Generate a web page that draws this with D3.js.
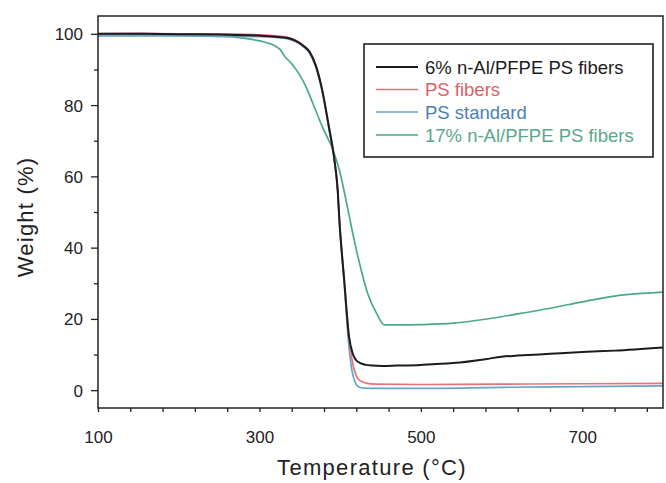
<!DOCTYPE html>
<html>
<head>
<meta charset="utf-8">
<script src="https://cdn.jsdelivr.net/npm/d3@7"></script>
<style>
  html, body { margin: 0; padding: 0; background: #fff; }
  svg { display: block; }
  text { font-family: "Liberation Sans", Arial, sans-serif; }
</style>
</head>
<body>
<svg id="chart" width="666" height="483"></svg>
<script>
// ---- Data ----
const seriesNames = ["6% n-Al/PFPE PS fibers", "PS fibers", "PS standard", "17% n-Al/PFPE PS fibers"];

const blackT = [100,150,200,250,300,320,335,345,355,362,370,378,386,393,397,399,405,411,416,420,425,432,440,452,470,500,540,580,600,620,660,700,740,800];
const blackW = [100,100,99.9,99.8,99.5,99.2,98.8,98,96.5,95,91,84,74,64.5,56,48,31,15,10,8.4,7.6,7.1,6.9,6.8,6.9,7.1,7.6,8.7,9.4,9.7,10.2,10.7,11.1,12];

const redT = [100,150,200,250,300,320,335,345,355,362,370,378,386,393,397,399,405,411,416,420,425,432,445,500,600,700,800];
const redW = [100,100.1,100,100,99.7,99.4,99,98.2,96.7,95,91,84,74,64.5,56,48,31,15,7,4,2.6,2.0,1.7,1.6,1.7,1.8,1.9];

const blueT = [100,150,200,250,300,320,335,345,355,362,370,378,386,393,397,399,405,411,415,419,423,430,450,500,600,700,800];
const blueW = [99.4,99.4,99.4,99.3,99.2,99,98.6,97.8,96.3,94.6,90.5,83.5,73.5,64,55.5,47.5,30,12,5,2,0.9,0.6,0.5,0.5,0.8,1.0,1.2];

const greenT = [100,150,200,250,280,300,320,326,331,340,350,358,366,378,391,399,409,414,424,434,445,455,470,500,540,580,620,660,700,740,800];
const greenW = [99.7,99.7,99.6,99.3,98.8,98,96.5,95.5,93.8,91.6,88.4,85,80.6,73.9,67.4,61.8,51.4,45.8,35.6,27.2,21.6,18.3,18.3,18.4,18.8,19.9,21.4,23,24.8,26.4,27.5];

const xTickLabels = [100, 300, 500, 700];
const yTickLabels = [0, 20, 40, 60, 80, 100];

// ---- Layout ----
const svg = d3.select("#chart");
const pLeft = 98, pRight = 663, pTop = 16, pBottom = 408;
const x = d3.scaleLinear().domain([100, 800]).range([pLeft, pRight]);
const y = d3.scaleLinear().domain([-5, 105]).range([pBottom, pTop]);

const colors = ["#1c1c1c", "#e5727e", "#6aa3c9", "#4aaa86"];
const textColors = ["#1c1c1c", "#dc5f6d", "#4c7fb4", "#5aa88a"];

const series = [
  blackT.map((t, i) => ({t, w: blackW[i]})),
  redT.map((t, i) => ({t, w: redW[i]})),
  blueT.map((t, i) => ({t, w: blueW[i]})),
  greenT.map((t, i) => ({t, w: greenW[i]}))
];

// clip
svg.append("clipPath").attr("id", "clip").append("rect")
  .attr("x", pLeft).attr("y", pTop).attr("width", pRight - pLeft).attr("height", pBottom - pTop);

const line = d3.line().x(d => x(d.t)).y(d => y(d.w)).curve(d3.curveMonotoneX);

const drawOrder = [3, 2, 1, 0];
const g = svg.append("g").attr("clip-path", "url(#clip)");
drawOrder.forEach(i => {
  g.append("path").datum(series[i])
    .attr("fill", "none")
    .attr("stroke", colors[i])
    .attr("stroke-width", i === 0 ? 2 : 1.7)
    .attr("d", line);
});

// frame
svg.append("rect").attr("x", pLeft).attr("y", pTop)
  .attr("width", pRight - pLeft).attr("height", pBottom - pTop)
  .attr("fill", "none").attr("stroke", "#222").attr("stroke-width", 1.5);

// x axis ticks
const xAxis = d3.axisBottom(x)
  .tickValues(d3.range(100, 800, 40))
  .tickSize(4)
  .tickFormat(d => xTickLabels.includes(d) ? d : "");
const xg = svg.append("g").attr("transform", `translate(0,${pBottom})`).call(xAxis);
xg.select(".domain").remove();
xg.selectAll(".tick line").attr("stroke", "#222").attr("stroke-width", 1.3);
xg.selectAll(".tick text").attr("fill", "#222").attr("font-size", 17)
  .attr("dy", null).attr("y", 35);

// y axis major
const yAxis = d3.axisLeft(y).tickValues(yTickLabels).tickSize(7).tickPadding(8);
const yg = svg.append("g").attr("transform", `translate(${pLeft},0)`).call(yAxis);
yg.select(".domain").remove();
yg.selectAll(".tick line").attr("stroke", "#222").attr("stroke-width", 1.3);
yg.selectAll(".tick text").attr("fill", "#222").attr("font-size", 17).attr("dy", "0.35em");

// y axis minor
const yMinor = d3.axisLeft(y).tickValues([10, 30, 50, 70, 90]).tickSize(4).tickFormat("");
const ym = svg.append("g").attr("transform", `translate(${pLeft},0)`).call(yMinor);
ym.select(".domain").remove();
ym.selectAll(".tick line").attr("stroke", "#222").attr("stroke-width", 1.3);

// axis titles
svg.append("text").attr("x", 372).attr("y", 475).attr("text-anchor", "middle")
  .attr("font-size", 22).attr("fill", "#222").attr("letter-spacing", 1.3)
  .text("Temperature (°C)");
svg.append("text").attr("transform", "translate(33,217) rotate(-90)")
  .attr("text-anchor", "middle").attr("font-size", 22).attr("fill", "#222")
  .attr("letter-spacing", 1.2)
  .text("Weight (%)");

// legend
const lg = svg.append("g");
lg.append("rect").attr("x", 364).attr("y", 44).attr("width", 289).attr("height", 113)
  .attr("fill", "#fff").attr("stroke", "#222").attr("stroke-width", 1.6);
const rowY = [67, 89.5, 112, 135];
seriesNames.forEach((name, i) => {
  lg.append("line").attr("x1", 376).attr("x2", 418).attr("y1", rowY[i]).attr("y2", rowY[i])
    .attr("stroke", colors[i]).attr("stroke-width", i === 0 ? 2 : 1.7);
  lg.append("text").attr("x", 425).attr("y", rowY[i]).attr("dy", "0.36em")
    .attr("font-size", 18.5).attr("fill", textColors[i]).text(name);
});
</script>
</body>
</html>
